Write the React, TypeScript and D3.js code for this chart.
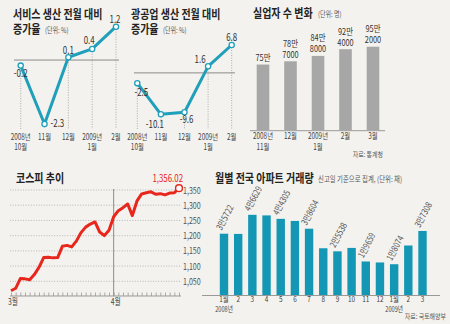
import React from "react";
import * as d3 from "d3";

// ---------- data ----------
const lineMonths = ["10월", "11월", "12월", "1월", "2월"];
const lineYears = ["2008년", "", "", "2009년", ""];
const serviceValues = [-0.2, -2.3, 0.1, 0.4, 1.2];
const miningValues = [-2.5, -10.1, -9.6, 1.6, 6.8];

const unempMonths = ["11월", "12월", "1월", "2월", "3월"];
const unempYears = ["2008년", "", "2009년", "", ""];
const unempValues = [750000, 787000, 848000, 924000, 952000];

const kospiValues = [
  1018.81, 1027, 1059, 1058, 1055, 1072, 1096, 1128, 1129, 1127, 1128, 1165,
  1168, 1163, 1182, 1210, 1228, 1238, 1245, 1212, 1200, 1218, 1262, 1282, 1292,
  1304, 1266, 1314, 1337, 1341, 1344, 1336, 1338, 1334, 1340, 1341, 1356.02,
];
const kospiTicks = [1050, 1100, 1150, 1200, 1250, 1300, 1350];
const kospiMonthLabels = ["3월", "4월"];
const kospiMonthStarts = [0, 22];

const aptMonths = ["1월", "2", "3", "4", "5", "6", "7", "8", "9", "10", "11", "12", "1월", "2", "3"];
const aptYears = ["2008년", "", "", "", "", "", "", "", "", "", "", "", "2009년", "", ""];
const aptValues = [35722, 35600, 46629, 46300, 44305, 43100, 38604, 27300, 25538, 27500, 19659, 19100, 18074, 28900, 37308];
const aptLabeled = [0, 2, 4, 6, 8, 10, 12, 14];

// ---------- style ----------
const FONT = "'Noto Sans CJK KR', 'Noto Sans', sans-serif";
const TEAL = "#1f9fba";
const BAR_TEAL = "#1397b4";
const RED = "#e8261c";

type TP = {
  x: number; y: number; children: React.ReactNode; size?: number; anchor?: string;
  fill?: string; weight?: number; sx?: number; rot?: number;
};
const T = ({ x, y, children, size = 10, anchor = "start", fill = "#333", weight = 400, sx = 0.8, rot = 0 }: TP) => (
  <text
    transform={`translate(${x},${y})${rot ? ` rotate(${rot})` : ""} scale(${sx},1)`}
    fontSize={size}
    textAnchor={anchor as any}
    fill={fill}
    fontWeight={weight}
    fontFamily={FONT}
  >
    {children}
  </text>
);

type LP = {
  values: number[]; x0: number; x1: number; yTop: number; yBot: number;
  zx0: number; zx1: number; offsets: [number, number, string][];
};
const LinePanel = ({ values, x0, x1, yTop, yBot, zx0, zx1, offsets }: LP) => {
  const x = d3.scalePoint<string>().domain(lineMonths.map((m, i) => i + "")).range([x0, x1]);
  const y = d3.scaleLinear().domain([d3.min(values)!, d3.max(values)!]).range([yBot, yTop]);
  const line = d3.line<number>().x((_, i) => x(i + "")!).y((d) => y(d));
  return (
    <g>
      <line x1={zx0} x2={zx1} y1={y(0)} y2={y(0)} stroke="#8a8a8a" strokeWidth={1} />
      {values.map((v, i) => (
        <line key={"d" + i} x1={x(i + "")} x2={x(i + "")} y1={y(v)} y2={129}
          stroke="#9a9a9a" strokeWidth={0.8} strokeDasharray="1,1.5" />
      ))}
      <path d={line(values)!} fill="none" stroke={TEAL} strokeWidth={3} strokeLinejoin="round" />
      {values.map((v, i) => (
        <circle key={"c" + i} cx={x(i + "")} cy={y(v)} r={2.6} fill="#fff" stroke={TEAL} strokeWidth={1.3} />
      ))}
      {values.map((v, i) => (
        <T key={"v" + i} x={x(i + "")! + offsets[i][0]} y={y(v) + offsets[i][1]} size={11}
          anchor={offsets[i][2]} fill="#333" sx={0.72}>{v.toFixed(1)}</T>
      ))}
      {lineMonths.map((m, i) => (
        <g key={"m" + i}>
          {lineYears[i] ? (
            <>
              <T x={x(i + "")!} y={139.5} size={8.5} anchor="middle" fill="#444" sx={0.75}>{lineYears[i]}</T>
              <T x={x(i + "")!} y={150} size={8.5} anchor="middle" fill="#444" sx={0.75}>{m}</T>
            </>
          ) : (
            <T x={x(i + "")!} y={139.5} size={8.5} anchor="middle" fill="#444" sx={0.75}>{m}</T>
          )}
        </g>
      ))}
    </g>
  );
};

const App = () => {
  // unemployment
  const ux = d3.scalePoint<string>().domain(unempMonths.map((_, i) => i + "")).range([263, 373]);
  const uy = d3.scaleLinear().domain([0, 1000000]).range([130.7, 42.5]);
  // kospi
  const kx = d3.scaleLinear().domain([0, kospiValues.length - 1]).range([11, 179]);
  const ky = d3.scaleLinear().domain([1050, 1350]).range([281.3, 190]);
  const kline = d3.line<number>().x((_, i) => kx(i)).y((d) => ky(d)).curve(d3.curveLinear);
  const last = kospiValues.length - 1;
  // apartments
  const ax = d3.scalePoint<string>().domain(aptMonths.map((_, i) => i + "")).range([224, 422.5]);
  const ay = d3.scaleLinear().domain([0, 50000]).range([295.5, 209]);
  const fmtApt = (v: number) => `${Math.floor(v / 10000)}만${String(v % 10000).padStart(4, "0")}`;

  return (
    <svg width={450} height={324} style={{ position: "absolute", left: 0, top: 0 }}>
      <rect width={450} height={324} fill="#f3f2ef" />

      {/* ---- service ---- */}
      <T x={13} y={19} size={12.5} weight={700} fill="#222" sx={0.8}>서비스 생산 전월 대비</T>
      <T x={13} y={34} size={12.5} weight={700} fill="#222" sx={0.8}>증가율</T>
      <T x={45} y={33} size={7.5} fill="#555" sx={0.8}>(단위: %)</T>
      <LinePanel values={serviceValues} x0={20.7} x1={116} yTop={26.7} yBot={124} zx0={14} zx1={119}
        offsets={[[0, 11, "middle"], [6, 3, "start"], [0, -3, "middle"], [-3, -5, "middle"], [-1, -4, "middle"]]} />

      {/* ---- mining ---- */}
      <T x={131} y={19} size={12.5} weight={700} fill="#222" sx={0.8}>광공업 생산 전월 대비</T>
      <T x={131} y={34} size={12.5} weight={700} fill="#222" sx={0.8}>증가율</T>
      <T x={163} y={33} size={7.5} fill="#555" sx={0.8}>(단위: %)</T>
      <LinePanel values={miningValues} x0={137.3} x1={231.7} yTop={45} yBot={114.3} zx0={134} zx1={235}
        offsets={[[4, 13, "middle"], [-6, 14, "middle"], [2, 11, "middle"], [-8, -3, "middle"], [0, -4, "middle"]]} />

      {/* ---- unemployment ---- */}
      <T x={253} y={18} size={12.5} weight={700} fill="#222" sx={0.8}>실업자 수 변화</T>
      <T x={318} y={17} size={7.5} fill="#555" sx={0.8}>(단위: 명)</T>
      <line x1={250} x2={385} y1={uy(0)} y2={uy(0)} stroke="#999" strokeWidth={1} />
      {unempValues.map((v, i) => {
        const cx = ux(i + "")!;
        const top = uy(v);
        const man = Math.floor(v / 10000);
        const rest = v % 10000;
        return (
          <g key={"u" + i}>
            <rect x={cx - 6.3} y={top} width={12.6} height={uy(0) - top} fill="#a7a7a7" />
            {rest ? (
              <>
                <T x={cx} y={top - 14.5} size={9} anchor="middle" fill="#333" sx={0.82}>{man}만</T>
                <T x={cx} y={top - 3.5} size={9} anchor="middle" fill="#333" sx={0.82}>{rest}</T>
              </>
            ) : (
              <T x={cx} y={top - 4} size={9} anchor="middle" fill="#333" sx={0.82}>{man}만</T>
            )}
            {unempYears[i] ? (
              <>
                <T x={cx} y={139} size={8.5} anchor="middle" fill="#444" sx={0.75}>{unempYears[i]}</T>
                <T x={cx} y={149.5} size={8.5} anchor="middle" fill="#444" sx={0.75}>{unempMonths[i]}</T>
              </>
            ) : (
              <T x={cx} y={139} size={8.5} anchor="middle" fill="#444" sx={0.75}>{unempMonths[i]}</T>
            )}
          </g>
        );
      })}
      <T x={383} y={157} size={7} anchor="end" fill="#555" sx={0.85}>자료: 통계청</T>

      {/* ---- kospi ---- */}
      <T x={16} y={183} size={12.5} weight={700} fill="#222" sx={0.8}>코스피 추이</T>
      {kospiTicks.map((t) => (
        <g key={"k" + t}>
          <line x1={10} x2={180} y1={ky(t)} y2={ky(t)} stroke="#a9a9a9" strokeWidth={0.8} strokeDasharray="1,1.6" />
          <T x={183} y={ky(t) + 3.5} size={9.5} fill="#555" sx={0.75}>{d3.format(",")(t)}</T>
        </g>
      ))}
      <line x1={kx(kospiMonthStarts[1])} x2={kx(kospiMonthStarts[1])} y1={189} y2={296} stroke="#8d8d8d" strokeWidth={1} />
      <line x1={10} x2={181} y1={296} y2={296} stroke="#999" strokeWidth={1} />
      {kospiValues.map((_, i) => (
        <line key={"kt" + i} x1={kx(i) + 0.5} x2={kx(i) + 0.5} y1={292.5} y2={296} stroke="#999" strokeWidth={0.8} />
      ))}
      {kospiMonthLabels.map((m, j) => (
        <T key={"km" + j} x={kx(kospiMonthStarts[j]) - 3} y={305} size={9} fill="#444" sx={0.75}>{m}</T>
      ))}
      <path d={kline(kospiValues)!} fill="none" stroke={RED} strokeWidth={3} strokeLinejoin="round" />
      <circle cx={kx(last)} cy={ky(kospiValues[last])} r={3.4} fill="#fff" stroke={RED} strokeWidth={1.4} />
      <T x={183} y={182} size={10.5} anchor="end" fill={RED} sx={0.75}>{d3.format(",.2f")(kospiValues[last])}</T>

      {/* ---- apartments ---- */}
      <T x={215} y={183} size={12.5} weight={700} fill="#222" sx={0.8}>월별 전국 아파트 거래량</T>
      <T x={318} y={182} size={8} fill="#555" sx={0.8}>신고일 기준으로 집계, (단위: 채)</T>
      {aptValues.map((v, i) => {
        const cx = ax(i + "")!;
        const top = ay(v);
        return (
          <g key={"a" + i}>
            <rect x={cx - 4.2} y={top} width={8.4} height={ay(0) - top} fill={BAR_TEAL} />
            {aptLabeled.includes(i) && (
              <T x={cx - 2.5} y={top - 3} size={9} fill="#555" sx={0.8} rot={-62}>{fmtApt(v)}</T>
            )}
            <T x={cx} y={302} size={8} anchor="middle" fill="#444" sx={0.8}>{aptMonths[i]}</T>
            {aptYears[i] && (
              <T x={cx} y={312} size={7.5} anchor="middle" fill="#444" sx={0.75}>{aptYears[i]}</T>
            )}
          </g>
        );
      })}
      <line x1={202} x2={440} y1={ay(0)} y2={ay(0)} stroke="#999" strokeWidth={1} />
      <T x={446} y={319} size={7} anchor="end" fill="#555" sx={0.85}>자료: 국토해양부</T>
    </svg>
  );
};

export default App;
